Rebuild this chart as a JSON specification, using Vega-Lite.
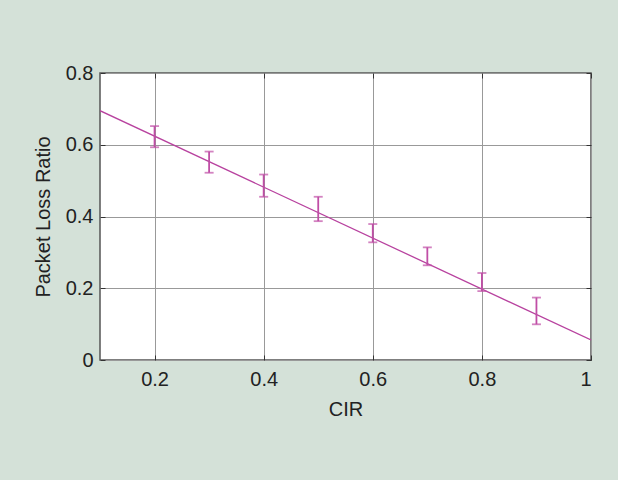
{
  "$schema": "https://vega.github.io/schema/vega-lite/v6.json",
  "width": 491,
  "height": 287,
  "autosize": {"type": "none"},
  "padding": {"left": 100, "top": 73, "right": 27, "bottom": 120},
  "background": "#d4e1d8",
  "config": {
    "view": {"fill": "white", "stroke": "#555555", "strokeWidth": 1.5},
    "font": "Liberation Sans",
    "axis": {
      "labelFont": "Liberation Sans",
      "titleFont": "Liberation Sans",
      "labelFontSize": 20,
      "titleFontSize": 20,
      "titleFontWeight": "normal",
      "labelColor": "#222222",
      "titleColor": "#222222",
      "gridColor": "#999999",
      "gridWidth": 1,
      "gridOpacity": 1,
      "domain": false,
      "tickColor": "#333333",
      "tickSize": -5,
      "tickWidth": 1
    }
  },
  "datasets": {
    "bars": [
      {"cir": 0.2, "lo": 0.593, "hi": 0.652},
      {"cir": 0.3, "lo": 0.522, "hi": 0.581},
      {"cir": 0.4, "lo": 0.455, "hi": 0.517},
      {"cir": 0.5, "lo": 0.387, "hi": 0.455},
      {"cir": 0.6, "lo": 0.328, "hi": 0.379},
      {"cir": 0.7, "lo": 0.264, "hi": 0.314},
      {"cir": 0.8, "lo": 0.192, "hi": 0.2425},
      {"cir": 0.9, "lo": 0.0995, "hi": 0.174}
    ],
    "fit": [
      {"cir": 0.1, "plr": 0.695},
      {"cir": 1.0, "plr": 0.0557}
    ]
  },
  "resolve": {"axis": {"x": "independent", "y": "independent"}},
  "layer": [
    {
      "data": {"name": "fit"},
      "mark": {"type": "line", "color": "#b8429f", "strokeWidth": 1.3, "clip": true},
      "encoding": {
        "x": {
          "field": "cir", "type": "quantitative",
          "scale": {"domain": [0.1, 1], "nice": false, "zero": false},
          "axis": {"orient": "bottom", "title": "CIR", "values": [0.2, 0.4, 0.6, 0.8, 1], "format": ".1~f", "labelPadding": 14, "titlePadding": 10, "grid": true}
        },
        "y": {
          "field": "plr", "type": "quantitative",
          "scale": {"domain": [0, 0.8], "nice": false, "zero": false},
          "axis": {"orient": "left", "title": "Packet Loss Ratio", "values": [0, 0.2, 0.4, 0.6, 0.8], "format": ".1~f", "labelPadding": 12, "titlePadding": 12, "grid": true}
        }
      }
    },
    {
      "data": {"name": "bars"},
      "mark": {"type": "rule", "color": "#c04ea6", "strokeWidth": 1.8},
      "encoding": {
        "x": {
          "field": "cir", "type": "quantitative",
          "axis": {"orient": "top", "title": null, "labels": false, "grid": false, "values": [0.2, 0.4, 0.6, 0.8, 1]}
        },
        "y": {
          "field": "lo", "type": "quantitative",
          "axis": {"orient": "right", "title": null, "labels": false, "grid": false, "values": [0, 0.2, 0.4, 0.6, 0.8]}
        },
        "y2": {"field": "hi"}
      }
    },
    {
      "data": {"name": "bars"},
      "mark": {"type": "tick", "color": "#c04ea6", "orient": "horizontal", "size": 9, "thickness": 1.8},
      "encoding": {
        "x": {"field": "cir", "type": "quantitative", "axis": null},
        "y": {"field": "lo", "type": "quantitative", "axis": null}
      }
    },
    {
      "data": {"name": "bars"},
      "mark": {"type": "tick", "color": "#c04ea6", "orient": "horizontal", "size": 9, "thickness": 1.8},
      "encoding": {
        "x": {"field": "cir", "type": "quantitative", "axis": null},
        "y": {"field": "hi", "type": "quantitative", "axis": null}
      }
    }
  ]
}
